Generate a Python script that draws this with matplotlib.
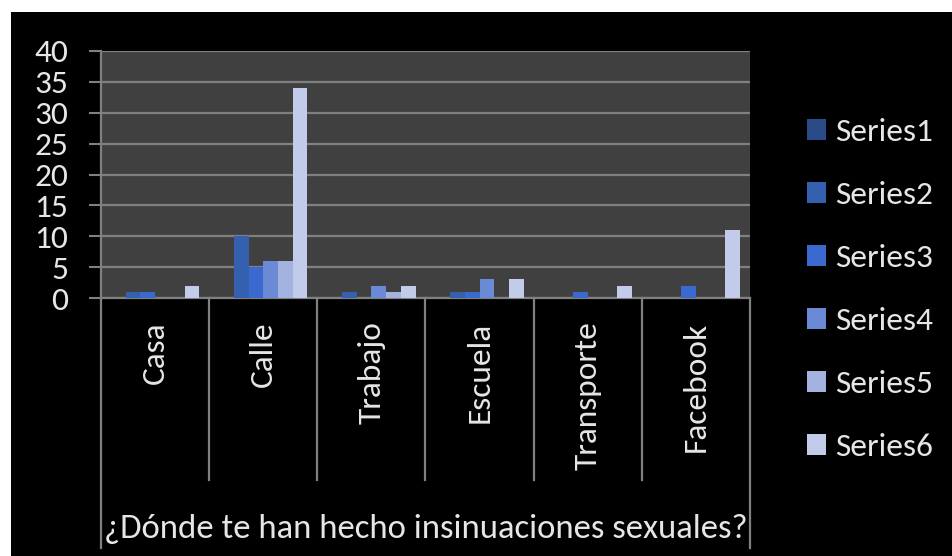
import matplotlib
matplotlib.use("Agg")
import matplotlib.pyplot as plt
from matplotlib.patches import Rectangle
import numpy as np

categories = ['Casa', 'Calle', 'Trabajo', 'Escuela', 'Transporte', 'Facebook']
series_names = ['Series1', 'Series2', 'Series3', 'Series4', 'Series5', 'Series6']
series1 = [0, 0, 0, 0, 0, 0]
series2 = [1, 10, 1, 1, 0, 0]
series3 = [1, 5, 0, 1, 1, 2]
series4 = [0, 6, 2, 3, 0, 0]
series5 = [0, 6, 1, 0, 0, 0]
series6 = [2, 34, 2, 3, 2, 11]
yticks = [0, 5, 10, 15, 20, 25, 30, 35, 40]
axis_title = '¿Dónde te han hecho insinuaciones sexuales?'

all_series = [series1, series2, series3, series4, series5, series6]
colors = ['#2a4a88', '#3560b0', '#3a6ad0', '#6a8ad6', '#a4b2e0', '#c3cbea']

plt.rcParams['font.family'] = ['Carlito', 'Lato', 'DejaVu Sans']
W, H = 953, 556
fig = plt.figure(figsize=(W / 100, H / 100), dpi=100, facecolor='white')
fig.patches.append(Rectangle((11 / W, 0), 1 - 11 / W, (H - 12) / H,
                             transform=fig.transFigure, facecolor='black',
                             edgecolor='none', zorder=-5))

ax_l, ax_r, ax_t, ax_b = 101, 750, 51, 298
ax = fig.add_axes([ax_l / W, (H - ax_b) / H, (ax_r - ax_l) / W, (ax_b - ax_t) / H])
ax.set_zorder(2)
ax.set_facecolor('#404040')

txt = '#e6e6e6'
grid = '#808080'
fs = 24

x = np.arange(len(categories))
bw = 0.136
for i, (vals, name, c) in enumerate(zip(all_series, series_names, colors)):
    ax.bar(x + (i - 2.5) * bw, vals, width=bw, color=c, label=name, zorder=3)

ax.set_xlim(-0.5, len(categories) - 0.5)
ax.set_ylim(0, 40)
ax.set_yticks(yticks)
ax.yaxis.grid(True, color=grid, linewidth=1.6, zorder=1)
ax.set_axisbelow(True)
ax.tick_params(axis='y', colors=grid, length=8.6, width=1.5, pad=15,
               labelcolor=txt, labelsize=fs)
ax.set_xticks(x)
ax.set_xticklabels(categories, rotation=90, va='top', ha='center')
ax.tick_params(axis='x', length=0, pad=17, labelcolor=txt, labelsize=fs)

for s in ['top', 'right']:
    ax.spines[s].set_visible(False)
ax.spines['left'].set_visible(False)
ax.spines['bottom'].set_color(grid)
ax.spines['bottom'].set_linewidth(1.6)

trans = ax.get_xaxis_transform()
axh = ax_b - ax_t
inner_bottom = -(480 - ax_b) / axh
outer_bottom = -(548 - ax_b) / axh
for k in range(len(categories) + 1):
    xb = -0.5 + k
    if k == 0:
        y0, y1 = outer_bottom, 1.0
    elif k == len(categories):
        y0, y1 = outer_bottom, 0.0
    else:
        y0, y1 = inner_bottom, 0.0
    ax.plot([xb, xb], [y0, y1], color=grid, linewidth=1.6, transform=trans,
            clip_on=False, zorder=4)

ax.set_xlabel(axis_title, color=txt, fontsize=25, va='center')
ax.xaxis.set_label_coords(0.5, -(529 - ax_b) / axh)

leg = fig.legend(loc='upper left', bbox_to_anchor=(807 / W, 1 - 118 / H),
                 frameon=False, fontsize=fs, handlelength=0.58, handleheight=0.58,
                 handletextpad=0.27, labelspacing=1.05, borderpad=0, borderaxespad=0,
                 labelcolor=txt)

fig.savefig('out.png', dpi=100, facecolor='white')
